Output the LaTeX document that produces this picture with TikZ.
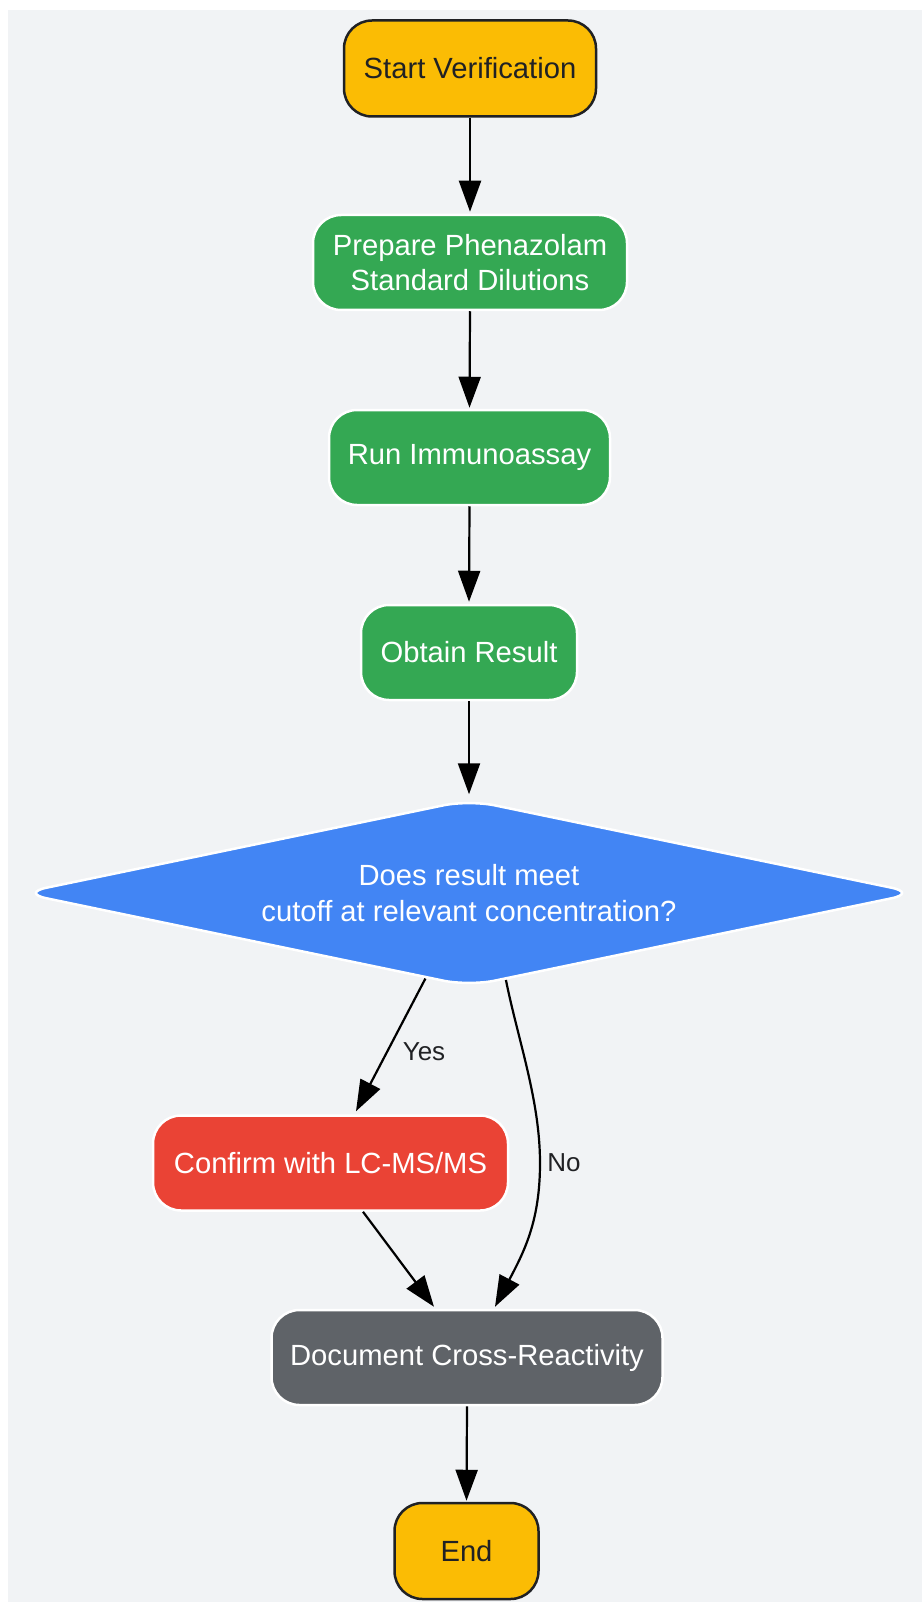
\documentclass[tikz,border=0pt]{standalone}
\usepackage{fontspec}
\setmainfont{Liberation Sans}
\usetikzlibrary{shapes.geometric,arrows.meta}
\definecolor{bgc}{HTML}{F1F3F5}
\definecolor{yel}{HTML}{FBBC04}
\definecolor{grn}{HTML}{34A853}
\definecolor{blu}{HTML}{4285F4}
\definecolor{rdd}{HTML}{EA4335}
\definecolor{gry}{HTML}{5F6368}
\definecolor{ink}{HTML}{202124}
\begin{document}
\begin{tikzpicture}[x=1pt,y=-1pt,
  box/.style={rectangle, rounded corners=28pt, minimum height=95pt, inner sep=0pt,
    align=center, line width=2.5pt, font=\fontsize{29.2}{35.5}\selectfont},
  term/.style={box, fill=yel, draw=ink, text=ink, minimum height=96pt},
  proc/.style={box, fill=grn, draw=white, text=white},
  conf/.style={box, fill=rdd, draw=white, text=white},
  docb/.style={box, fill=gry, draw=white, text=white},
  dec/.style={diamond, aspect=4.8, fill=blu, draw=white, text=white, line width=2.5pt,
    minimum width=897pt, minimum height=187pt, inner sep=0pt, rounded corners=26pt,
    align=center, font=\fontsize{29.2}{35.5}\selectfont},
  conn/.style={line width=2.2pt, draw=black, -{Triangle[length=31pt,width=22pt]}},
  lbl/.style={font=\fontsize{26}{30}\selectfont, text=ink, inner sep=0pt}
]
\useasboundingbox (0,0) rectangle (922,1602);
\fill[bgc] (8,10) rectangle (922,1602);

\node[term, minimum width=252pt] (start) at (470,68.5) {Start Verification};
\node[proc, minimum width=314pt] (prep) at (470,262.5) {Prepare Phenazolam\\Standard Dilutions};
\node[proc, minimum width=281pt] (run) at (469.5,457.5) {Run Immunoassay};
\node[proc, minimum width=216pt] (obt) at (469,652.5) {Obtain Result};
\node[dec] (dec) at (469,893) {Does result meet\\cutoff at relevant concentration?};
\node[conf, minimum width=355pt] (cnf) at (330.5,1163) {Confirm with LC-MS/MS};
\node[docb, minimum width=391pt] (doc) at (467,1357.5) {Document Cross-Reactivity};
\node[term, minimum width=144pt] (end) at (466.5,1551) {End};

\node[lbl] (yes) at (424,1052) {Yes};
\node[lbl] (no) at (564,1163) {No};

\draw[conn, shorten >=2pt] (start.south) -- (prep.north);
\draw[conn, shorten >=1pt] (prep.south) -- (run.north);
\draw[conn, shorten >=2pt] (run.south) -- (obt.north);
\draw[conn, shorten >=4pt] (obt.south) -- (dec.north);
\draw[conn] (dec.243) -- ([xshift=25.5pt,yshift=3pt]cnf.north);
\draw[conn] (dec.293) .. controls (518,1040) and (540,1100) .. (540,1163)
  .. controls (540,1220) and (525,1250) .. ([xshift=28pt,yshift=2pt]doc.north);
\draw[conn] ([xshift=32.5pt]cnf.south) -- ([xshift=-33pt,yshift=2pt]doc.north);
\draw[conn, shorten >=1pt] (doc.south) -- (end.north);
\end{tikzpicture}
\end{document}
